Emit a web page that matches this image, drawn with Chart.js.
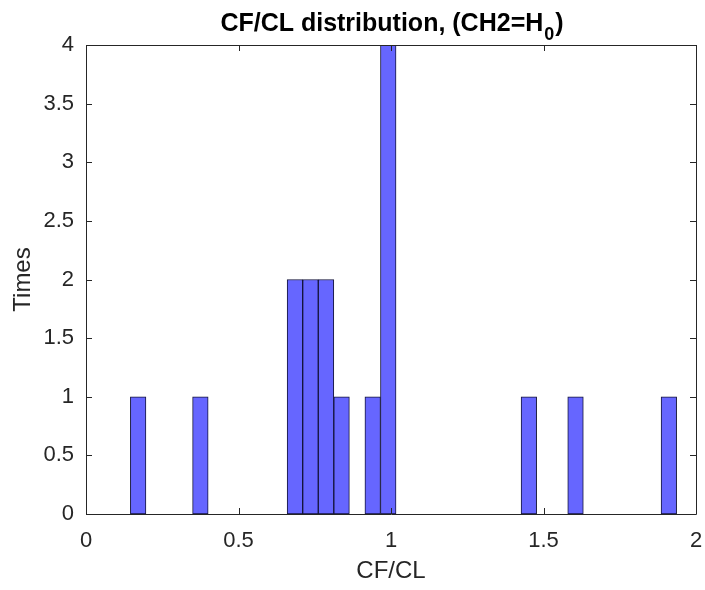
<!DOCTYPE html>
<html>
<head>
<meta charset="utf-8">
<script src="https://cdn.jsdelivr.net/npm/chart.js@4.4.1/dist/chart.umd.min.js"></script>
<style>
  html, body { margin: 0; padding: 0; background: #fff; }
  #wrap { width: 705px; height: 590px; }
</style>
</head>
<body>
<div id="wrap"><canvas id="hist" width="705" height="590"></canvas></div>
<script>
// histogram bins (bin centre on CF/CL axis, count)
const binCenters = [0.171, 0.375, 0.685, 0.736, 0.787, 0.838, 0.940, 0.991, 1.452, 1.605, 1.911];
const counts     = [1, 1, 2, 2, 2, 1, 1, 4, 1, 1, 1];

const xTickValues = [0, 0.5, 1, 1.5, 2];
const yTickValues = [0, 0.5, 1, 1.5, 2, 2.5, 3, 3.5, 4];

const titleMain = 'CF/CL distribution, (CH2=H';
const titleSub = '0';
const titleTail = ')';

const axisColor = '#262626';
const fontFamily = '"Liberation Sans", Arial, Helvetica, sans-serif';

// box round the axes with inward ticks on all four sides (MATLAB style)
const boxPlugin = {
    id: 'matlabBox',
    afterDraw(chart) {
        const { ctx, chartArea: a, scales } = chart;
        const tl = 6;
        ctx.save();
        ctx.strokeStyle = axisColor;
        ctx.lineWidth = 1;
        ctx.beginPath();
        ctx.rect(Math.round(a.left) + 0.5, Math.round(a.top) + 0.5,
                 Math.round(a.right - a.left), Math.round(a.bottom - a.top));
        ctx.stroke();
        ctx.beginPath();
        xTickValues.forEach(v => {
            const px = Math.round(scales.x.getPixelForValue(v)) + 0.5;
            ctx.moveTo(px, a.bottom); ctx.lineTo(px, a.bottom - tl);
            ctx.moveTo(px, a.top); ctx.lineTo(px, a.top + tl);
        });
        yTickValues.forEach(v => {
            const py = Math.round(scales.y.getPixelForValue(v)) + 0.5;
            ctx.moveTo(a.left, py); ctx.lineTo(a.left + tl, py);
            ctx.moveTo(a.right, py); ctx.lineTo(a.right - tl, py);
        });
        ctx.stroke();
        ctx.restore();
    }
};

// title with a subscript 0
const titlePlugin = {
    id: 'subTitle',
    afterDraw(chart) {
        const { ctx, chartArea: a } = chart;
        const mainFont = 'bold 25px ' + fontFamily;
        const subFont = 'bold 18px ' + fontFamily;
        ctx.save();
        ctx.fillStyle = '#000';
        ctx.textBaseline = 'alphabetic';
        ctx.font = mainFont;
        const w1 = ctx.measureText(titleMain).width;
        const w3 = ctx.measureText(titleTail).width;
        ctx.font = subFont;
        const w2 = ctx.measureText(titleSub).width;
        let x = (a.left + a.right) / 2 - (w1 + w2 + w3) / 2;
        const base = 31;
        ctx.textAlign = 'left';
        ctx.font = mainFont;
        ctx.fillText(titleMain, x, base);
        x += w1 + 1;
        ctx.font = subFont;
        ctx.fillText(titleSub, x, base + 9);
        x += w2 + 1;
        ctx.font = mainFont;
        ctx.fillText(titleTail, x, base);
        ctx.restore();
    }
};

const ctx = document.getElementById('hist');
new Chart(ctx, {
    type: 'bar',
    data: {
        datasets: [{
            data: binCenters.map((x, i) => ({ x: x, y: counts[i] })),
            backgroundColor: '#6666ff',
            borderColor: '#14143a',
            borderWidth: 1,
            borderSkipped: false,
            barPercentage: 1,
            categoryPercentage: 1
        }]
    },
    options: {
        responsive: false,
        animation: false,
        events: [],
        layout: { padding: { left: 0, right: 9, top: 45, bottom: 0 } },
        plugins: {
            legend: { display: false },
            tooltip: { enabled: false },
            title: { display: false }
        },
        scales: {
            x: {
                type: 'linear',
                offset: false,
                min: 0,
                max: 2,
                afterBuildTicks: scale => { scale.ticks = xTickValues.map(v => ({ value: v })); },
                afterFit: scale => {
                    scale.height = 76;
                    scale.paddingLeft = 0;
                    scale.paddingRight = 0;
                },
                grid: { display: false, drawTicks: false },
                border: { display: false },
                ticks: {
                    color: axisColor,
                    padding: 14,
                    maxRotation: 0,
                    font: { family: fontFamily, size: 22 },
                    callback: v => String(v)
                },
                title: {
                    display: true,
                    text: 'CF/CL',
                    color: axisColor,
                    font: { family: fontFamily, size: 24 },
                    padding: { top: 0, bottom: 4 }
                }
            },
            y: {
                min: 0,
                max: 4,
                afterBuildTicks: scale => { scale.ticks = yTickValues.map(v => ({ value: v })); },
                afterFit: scale => {
                    scale.width = 86;
                    scale.paddingTop = 0;
                    scale.paddingBottom = 0;
                },
                grid: { display: false, drawTicks: false },
                border: { display: false },
                ticks: {
                    color: axisColor,
                    padding: 12,
                    font: { family: fontFamily, size: 22 },
                    callback: v => String(v)
                },
                title: {
                    display: true,
                    text: 'Times',
                    color: axisColor,
                    font: { family: fontFamily, size: 24 },
                    padding: { top: 9, bottom: 0 }
                }
            }
        }
    },
    plugins: [boxPlugin, titlePlugin]
});
</script>
</body>
</html>
